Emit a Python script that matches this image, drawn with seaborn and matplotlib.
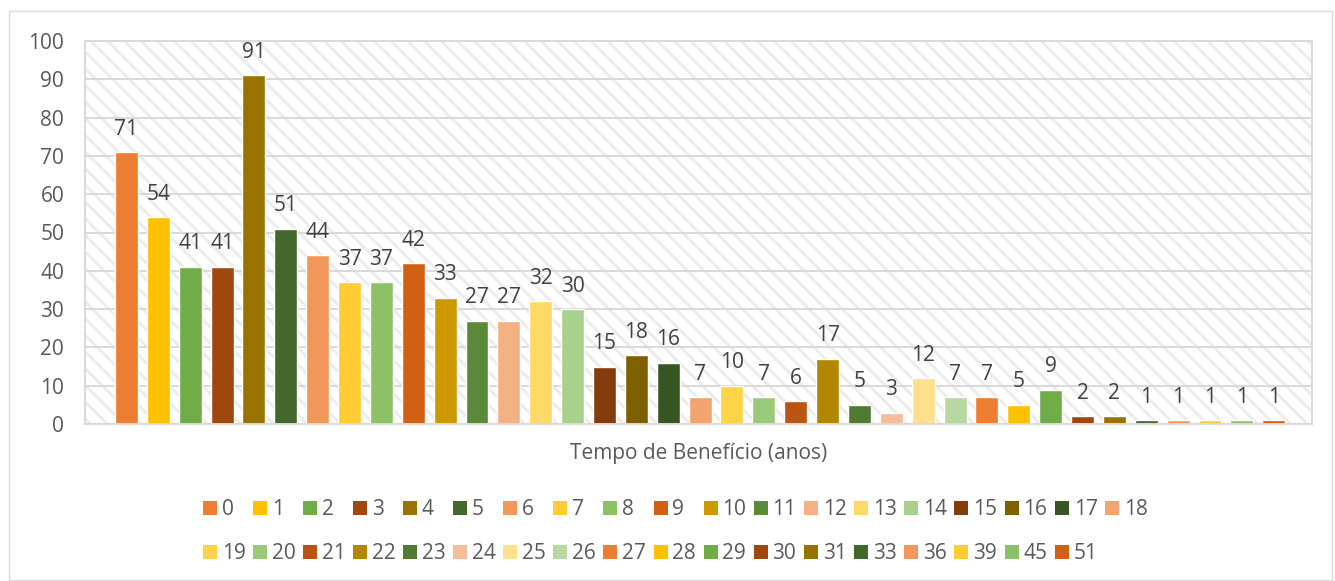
import matplotlib
matplotlib.use("Agg")
import matplotlib.pyplot as plt
from matplotlib.patches import Rectangle
from matplotlib.lines import Line2D
import seaborn as sns
import pandas as pd

# Benefit duration (years) and number of cases
anos = ["0", "1", "2", "3", "4", "5", "6", "7", "8", "9", "10", "11", "12",
        "13", "14", "15", "16", "17", "18", "19", "20", "21", "22", "23", "24",
        "25", "26", "27", "28", "29", "30", "31", "33", "36", "39", "45", "51"]
casos = [71, 54, 41, 41, 91, 51, 44, 37, 37, 42, 33, 27, 27, 32, 30, 15, 18,
         16, 7, 10, 7, 6, 17, 5, 3, 12, 7, 7, 5, 9, 2, 2, 1, 1, 1, 1, 1]
cores = ["#ED7D31", "#FFC000", "#70AD47", "#9E480E", "#997300", "#43682B",
         "#F1975A", "#FFCD33", "#8CC168", "#D26012", "#CC9A00", "#5A8A39",
         "#F4B183", "#FFD966", "#A9D18E", "#843C0C", "#7F6000", "#375623",
         "#F3A46E", "#FFD347", "#9BC97A", "#BA5410", "#B38600", "#4E7A32",
         "#F5BD99", "#FFE08C", "#B8D8A2", "#ED7D31", "#FFC000", "#70AD47",
         "#9E480E", "#997300", "#43682B", "#F1975A", "#FFCD33", "#8CC168",
         "#D26012"]
titulo_x = "Tempo de Benefício (anos)"

sns.set_theme(style="white")
plt.rcParams["font.family"] = ["Open Sans", "DejaVu Sans"]
plt.rcParams["hatch.linewidth"] = 2.0

GRID = "#D9D9D9"
TXT = "#595959"
FS = 15

df = pd.DataFrame({"ano": anos, "casos": casos})

fig = plt.figure(figsize=(13.35, 5.81), dpi=100)
ax = fig.add_axes([85 / 1335, 1 - 424 / 581, (1312 - 85) / 1335, (424 - 41) / 581])

# striped plot-area background
ax.add_patch(Rectangle((0, 0), 1, 1, transform=ax.transAxes, facecolor="white",
                       edgecolor="#EBEBEB", hatch="\\\\", lw=0, zorder=0))

sns.barplot(data=df, x="ano", y="casos", hue="ano", order=anos, hue_order=anos,
            palette=cores, width=0.72, legend=False, saturation=1, ax=ax,
            zorder=3)

for cont in ax.containers:
    ax.bar_label(cont, fmt="%d", padding=9, fontsize=FS, color="#404040")

ax.set_ylim(0, 100)
ax.set_yticks(range(0, 101, 10))
ax.set_xlim(-1.3, 37.2)
ax.yaxis.grid(True, color=GRID, lw=1.4, zorder=1)
ax.set_axisbelow(False)
ax.tick_params(axis="y", length=0, labelsize=FS, labelcolor=TXT, pad=15)
ax.tick_params(axis="x", length=0, labelbottom=False)
ax.set_ylabel("")
ax.set_xlabel(titulo_x, fontsize=FS, color=TXT, labelpad=14)
for sp in ax.spines.values():
    sp.set_color(GRID)
    sp.set_linewidth(1.4)
    sp.set_zorder(4)

# legend laid out as a 19-column grid, filled row by row
handles = [Line2D([], [], marker="s", linestyle="", markersize=10,
                  markerfacecolor=c, markeredgewidth=0) for c in cores]
ncol = 19
order = []
for c in range(ncol):
    for r in range(2):
        i = r * ncol + c
        if i < len(anos):
            order.append(i)
fig.legend([handles[i] for i in order], [anos[i] for i in order],
           ncol=ncol, loc="upper left", bbox_to_anchor=(203 / 1335, 1 - 499 / 581),
           frameon=False, fontsize=FS, labelcolor=TXT, handlelength=0.67,
           handletextpad=0.23, columnspacing=0.36, labelspacing=1.12,
           borderpad=0, borderaxespad=0)

# chart frame
fig.add_artist(Rectangle((9 / 1335, 1 / 581), 1323 / 1335, 569 / 581,
                         transform=fig.transFigure, fill=False,
                         edgecolor=GRID, lw=1.0))

fig.savefig("out.png", dpi=100)
